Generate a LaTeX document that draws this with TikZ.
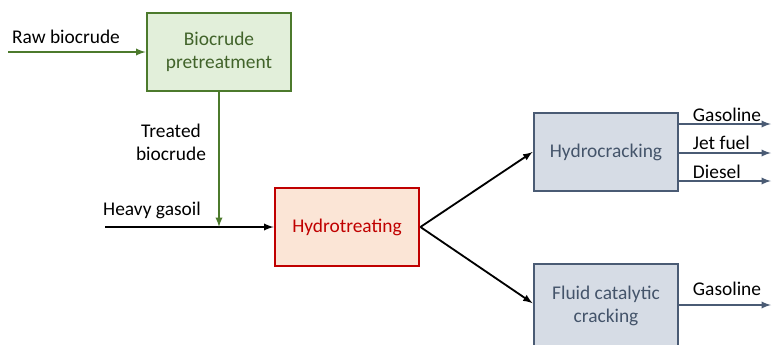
\documentclass[tikz,border=0pt]{standalone}
\usepackage{fontspec}
\setmainfont{Carlito}
\usepackage{tikz}
\usetikzlibrary{arrows,shapes,positioning,calc}

\definecolor{grnline}{HTML}{4C7A2C}
\definecolor{grnfill}{HTML}{E2EFDA}
\definecolor{grntext}{HTML}{41632A}
\definecolor{redline}{HTML}{C00000}
\definecolor{redfill}{HTML}{FBE5D6}
\definecolor{bluline}{HTML}{4A5B74}
\definecolor{blufill}{HTML}{D6DCE5}
\definecolor{blutext}{HTML}{44546A}

\begin{document}
\begin{tikzpicture}[
    x=0.025cm,y=-0.025cm,
    unit/.style={rectangle,draw,line width=2pt,minimum width=3.6cm,minimum height=1.95cm,align=center,font=\fontsize{13.8}{16.5}\selectfont},
    lbl/.style={align=center,font=\fontsize{13.8}{16.5}\selectfont,text=black},
    arrow/.style={-latex,line width=1.3pt}
]
    \useasboundingbox (0,0) rectangle (772,344);

    % Process units
    \node[unit,draw=grnline,fill=grnfill,text=grntext] (pre) at (219,52) {Biocrude\\pretreatment};
    \node[unit,draw=redline,fill=redfill,text=redline] (hto) at (347,227) {Hydrotreating};
    \node[unit,draw=bluline,fill=blufill,text=blutext] (hcr) at (606,152) {Hydrocracking};
    \node[unit,draw=bluline,fill=blufill,text=blutext,minimum height=2.1cm] (fcc) at (606,306) {Fluid catalytic\\cracking};

    % Feeds
    \coordinate (raw) at (8,52);
    \coordinate (hgo) at (105,227);
    \draw[arrow,grnline] (raw) -- (pre.west);
    \node[lbl] (rawlbl) at (66,37) {Raw biocrude};
    \draw[arrow] (hgo) -- (hto.west);
    \node[lbl] (hgolbl) at (152,210) {Heavy gasoil};
    \draw[arrow,grnline] (pre.south) -- (pre.south |- hto.west);
    \node[lbl] (trtlbl) at (171,142) {Treated\\biocrude};

    % Hydrotreated product to the crackers
    \draw[arrow] (hto.east) -- (hcr.west);
    \draw[arrow] (hto.east) -- ([yshift=2pt]fcc.west);

    % Products
    \coordinate (out1) at (771,124);
    \coordinate (out2) at (771,153);
    \coordinate (out3) at (771,181);
    \coordinate (out4) at (771,305);
    \draw[arrow,bluline] (hcr.east |- out1) -- (out1);
    \draw[arrow,bluline] (hcr.east |- out2) -- (out2);
    \draw[arrow,bluline] (hcr.east |- out3) -- (out3);
    \draw[arrow,bluline] (fcc.east |- out4) -- (out4);
    \node[lbl,anchor=west] (gas1) at (688,115) {Gasoline};
    \node[lbl,anchor=west] (jet) at (688,143) {Jet fuel};
    \node[lbl,anchor=west] (dsl) at (688,172) {Diesel};
    \node[lbl,anchor=west] (gas2) at (688,289) {Gasoline};
\end{tikzpicture}
\end{document}
